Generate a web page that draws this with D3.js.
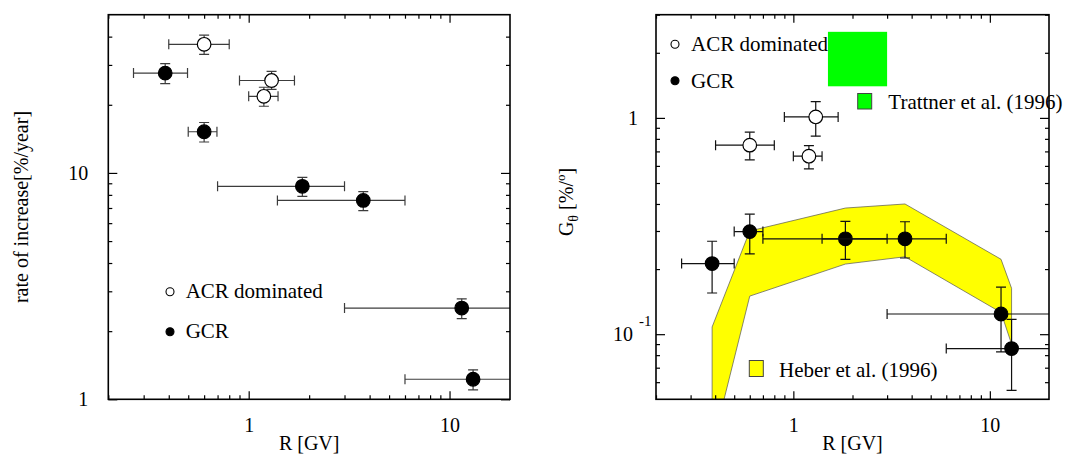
<!DOCTYPE html>
<meta charset="utf-8">
<html>
<head>
<script src="https://d3js.org/d3.v7.min.js" charset="utf-8"></script>
<style type="text/css">
    body { margin: 0; background: #fff; }
    svg text { font-family: "Liberation Serif", "DejaVu Serif", serif; fill: #000; }
</style>
</head>
<body>
<div id="chart"></div>
<script type="text/javascript">

// ---- data ----
// left panel: rate of increase [%/year] vs rigidity
var leftAcrR    = [0.6, 1.3, 1.19];
var leftAcrRLo  = [0.4, 0.9, 1.0];
var leftAcrRHi  = [0.8, 1.69, 1.4];
var leftAcrVal  = [37, 25.6, 21.8];
var leftAcrLo   = [33.4, 23.4, 19.7];
var leftAcrHi   = [40.6, 28.1, 23.9];

var leftGcrR    = [0.384, 0.6, 1.85, 3.72, 11.5, 13.1];
var leftGcrRLo  = [0.267, 0.5, 0.7, 1.39, 3.0, 6.0];
var leftGcrRHi  = [0.496, 0.695, 3.0, 6.0, 30, 30];
var leftGcrVal  = [27.6, 15.2, 8.73, 7.56, 2.53, 1.226];
var leftGcrLo   = [24.8, 13.7, 7.88, 6.81, 2.27, 1.10];
var leftGcrHi   = [30.4, 16.7, 9.56, 8.27, 2.78, 1.35];

// right panel: G_theta [%/deg] vs rigidity
var rightAcrR   = [0.6, 1.3, 1.2];
var rightAcrRLo = [0.402, 0.9, 1.0];
var rightAcrRHi = [0.8, 1.69, 1.4];
var rightAcrVal = [0.748, 1.01, 0.665];
var rightAcrLo  = [0.64, 0.823, 0.581];
var rightAcrHi  = [0.859, 1.19, 0.745];

var rightGcrR   = [0.386, 0.6, 1.84, 3.7, 11.4, 12.9];
var rightGcrRLo = [0.27, 0.5, 0.7, 1.4, 3.0, 6.0];
var rightGcrRHi = [0.5, 0.7, 3.0, 6.0, 30, 30];
var rightGcrVal = [0.212, 0.298, 0.276, 0.276, 0.124, 0.0858];
var rightGcrLo  = [0.155, 0.235, 0.222, 0.225, 0.0828, 0.055];
var rightGcrHi  = [0.269, 0.359, 0.332, 0.331, 0.165, 0.117];

// Heber et al. (1996) band
var heberR  = [0.386, 0.6, 1.84, 3.7, 11.4, 12.9];
var heberLo = [0.030, 0.150, 0.211, 0.228, 0.126, 0.090];
var heberHi = [0.108, 0.30, 0.383, 0.400, 0.222, 0.163];

// Trattner et al. (1996) box
var trattnerR = [1.5, 3.0];
var trattnerG = [1.4, 2.5];

// ticks
var xMajor = [1, 10];
var xMinor = [0.2, 0.3, 0.4, 0.5, 0.6, 0.7, 0.8, 0.9, 2, 3, 4, 5, 6, 7, 8, 9];
var leftYMajor = [1, 10];
var leftYMinor = [2, 3, 4, 5, 6, 7, 8, 9, 20, 30, 40];
var rightYMajor = [0.1, 1];
var rightYMinor = [0.06, 0.07, 0.08, 0.09, 0.2, 0.3, 0.4, 0.5, 0.6, 0.7, 0.8, 0.9, 2, 3];

var canvas_width = 1077;
var canvas_height = 455;

var svg = d3.select("#chart").append("svg")
    .attr("width", canvas_width)
    .attr("height", canvas_height);

function zip(r, rlo, rhi, v, lo, hi) {
    return r.map(function(d, i) {
        return {r: d, rlo: rlo[i], rhi: rhi[i], v: v[i], lo: lo[i], hi: hi[i]};
    });
}

// draws frame + inward ticks on all four sides
function drawAxes(g, x, y, box, yMajor, yMinor, yPad) {
    function clean(sel) { sel.select(".domain").remove(); }

    g.append("g").attr("transform", "translate(0," + box.y1 + ")")
        .call(d3.axisBottom(x).tickValues(xMinor).tickSize(-4).tickFormat("")).call(clean);
    g.append("g").attr("transform", "translate(0," + box.y1 + ")")
        .call(d3.axisBottom(x).tickValues(xMajor).tickSize(-8).tickPadding(19).tickFormat(d3.format("d")))
        .call(clean);
    g.append("g").attr("transform", "translate(0," + box.y0 + ")")
        .call(d3.axisTop(x).tickValues(xMinor).tickSize(-4).tickFormat("")).call(clean);
    g.append("g").attr("transform", "translate(0," + box.y0 + ")")
        .call(d3.axisTop(x).tickValues(xMajor).tickSize(-8).tickFormat("")).call(clean);

    g.append("g").attr("transform", "translate(" + box.x0 + ",0)")
        .call(d3.axisLeft(y).tickValues(yMinor).tickSize(-4).tickFormat("")).call(clean);
    var yl = g.append("g").attr("class", "ylab").attr("transform", "translate(" + box.x0 + ",0)")
        .call(d3.axisLeft(y).tickValues(yMajor).tickSize(-9).tickPadding(yPad).tickFormat(d3.format("d")))
        .call(clean);
    g.append("g").attr("transform", "translate(" + box.x1 + ",0)")
        .call(d3.axisRight(y).tickValues(yMinor).tickSize(-4).tickFormat("")).call(clean);
    g.append("g").attr("transform", "translate(" + box.x1 + ",0)")
        .call(d3.axisRight(y).tickValues(yMajor).tickSize(-9).tickFormat("")).call(clean);

    g.selectAll(".tick line").attr("stroke", "#000").attr("stroke-width", 1.2);
    g.selectAll(".tick text")
        .attr("font-family", "Liberation Serif")
        .attr("font-size", 20)
        .attr("fill", "#000");

    g.append("rect")
        .attr("x", box.x0).attr("y", box.y0)
        .attr("width", box.x1 - box.x0).attr("height", box.y1 - box.y0)
        .attr("fill", "none").attr("stroke", "#000").attr("stroke-width", 1.6);
    return yl;
}

function drawPoints(g, x, y, data, filled, color) {
    var cap = 5;
    var pts = g.append("g").selectAll("g").data(data).enter().append("g")
        .attr("stroke", color).attr("stroke-width", 1.2);
    // horizontal bar + caps
    pts.append("line")
        .attr("x1", function(d) { return x(d.rlo); }).attr("x2", function(d) { return x(d.rhi); })
        .attr("y1", function(d) { return y(d.v); }).attr("y2", function(d) { return y(d.v); });
    pts.append("line")
        .attr("x1", function(d) { return x(d.rlo); }).attr("x2", function(d) { return x(d.rlo); })
        .attr("y1", function(d) { return y(d.v) - cap; }).attr("y2", function(d) { return y(d.v) + cap; });
    pts.append("line")
        .attr("x1", function(d) { return x(d.rhi); }).attr("x2", function(d) { return x(d.rhi); })
        .attr("y1", function(d) { return y(d.v) - cap; }).attr("y2", function(d) { return y(d.v) + cap; });
    // vertical bar + caps
    pts.append("line")
        .attr("x1", function(d) { return x(d.r); }).attr("x2", function(d) { return x(d.r); })
        .attr("y1", function(d) { return y(d.lo); }).attr("y2", function(d) { return y(d.hi); });
    pts.append("line")
        .attr("x1", function(d) { return x(d.r) - cap; }).attr("x2", function(d) { return x(d.r) + cap; })
        .attr("y1", function(d) { return y(d.lo); }).attr("y2", function(d) { return y(d.lo); });
    pts.append("line")
        .attr("x1", function(d) { return x(d.r) - cap; }).attr("x2", function(d) { return x(d.r) + cap; })
        .attr("y1", function(d) { return y(d.hi); }).attr("y2", function(d) { return y(d.hi); });
    pts.append("circle")
        .attr("cx", function(d) { return x(d.r); })
        .attr("cy", function(d) { return y(d.v); })
        .attr("r", 6.8)
        .attr("fill", filled ? "#000" : "#fff")
        .attr("stroke", "#000")
        .attr("stroke-width", 1.2);
}

function legendMarker(g, px, py, filled) {
    g.append("circle").attr("cx", px).attr("cy", py).attr("r", 4)
        .attr("fill", filled ? "#000" : "#fff").attr("stroke", "#000").attr("stroke-width", 1.1);
}
function legendText(g, px, py, s) {
    return g.append("text").attr("x", px).attr("y", py).attr("font-size", 21).text(s);
}

// ================= LEFT PANEL =================
var boxL = {x0: 108.3, x1: 510, y0: 14.7, y1: 399.3};
var xL = d3.scaleLog().domain([0.2, 20]).range([boxL.x0, boxL.x1]);
var yL = d3.scaleLog().domain([1, 50]).range([boxL.y1, boxL.y0]);
var gL = svg.append("g");

svg.append("clipPath").attr("id", "clipL").append("rect")
    .attr("x", boxL.x0).attr("y", boxL.y0)
    .attr("width", boxL.x1 - boxL.x0).attr("height", boxL.y1 - boxL.y0);
var plotL = gL.append("g").attr("clip-path", "url(#clipL)");

drawPoints(plotL, xL, yL, zip(leftGcrR, leftGcrRLo, leftGcrRHi, leftGcrVal, leftGcrLo, leftGcrHi), true, "#3c3c3c");
drawPoints(plotL, xL, yL, zip(leftAcrR, leftAcrRLo, leftAcrRHi, leftAcrVal, leftAcrLo, leftAcrHi), false, "#3c3c3c");

drawAxes(gL, xL, yL, boxL, leftYMajor, leftYMinor, 20);

legendMarker(gL, 170, 291.7, false);
legendText(gL, 185.7, 298, "ACR dominated");
legendMarker(gL, 170, 331.7, true);
legendText(gL, 185.7, 338, "GCR");

gL.append("text")
    .attr("text-anchor", "middle")
    .attr("font-size", 20)
    .attr("transform", "translate(" + ((boxL.x0 + boxL.x1) / 2) + ",449.5)")
    .text("R [GV]");
gL.append("text")
    .attr("text-anchor", "middle")
    .attr("font-size", 20)
    .attr("transform", "translate(28," + ((boxL.y0 + boxL.y1) / 2) + ")rotate(-90)")
    .text("rate of increase[%/year]");

// ================= RIGHT PANEL =================
var boxR = {x0: 656, x1: 1049, y0: 14.7, y1: 399.3};
var xR = d3.scaleLog().domain([0.2, 20]).range([boxR.x0, boxR.x1]);
var yR = d3.scaleLog().domain([0.05, 3]).range([boxR.y1, boxR.y0]);
var gR = svg.append("g");

svg.append("clipPath").attr("id", "clipR").append("rect")
    .attr("x", boxR.x0).attr("y", boxR.y0)
    .attr("width", boxR.x1 - boxR.x0).attr("height", boxR.y1 - boxR.y0);
var plotR = gR.append("g").attr("clip-path", "url(#clipR)");

// Heber band
var band = heberR.map(function(d, i) { return {r: d, lo: heberLo[i], hi: heberHi[i]}; });
plotR.append("path")
    .datum(band)
    .attr("d", d3.area()
        .x(function(d) { return xR(d.r); })
        .y0(function(d) { return yR(d.lo); })
        .y1(function(d) { return yR(d.hi); }))
    .attr("fill", "#ffff00")
    .attr("stroke", "#555")
    .attr("stroke-width", 0.7);

// Trattner box
plotR.append("rect")
    .attr("x", xR(trattnerR[0]))
    .attr("y", yR(trattnerG[1]))
    .attr("width", xR(trattnerR[1]) - xR(trattnerR[0]))
    .attr("height", yR(trattnerG[0]) - yR(trattnerG[1]))
    .attr("fill", "#00ff00");

drawPoints(plotR, xR, yR, zip(rightGcrR, rightGcrRLo, rightGcrRHi, rightGcrVal, rightGcrLo, rightGcrHi), true, "#111");
drawPoints(plotR, xR, yR, zip(rightAcrR, rightAcrRLo, rightAcrRHi, rightAcrVal, rightAcrLo, rightAcrHi), false, "#111");

var ylR = drawAxes(gR, xR, yR, boxR, rightYMajor, rightYMinor, 18);
// 10^-1 label
ylR.selectAll(".tick").filter(function(d) { return d < 0.5; }).select("text")
    .attr("x", -4.5)
    .text(null)
    .call(function(t) {
        t.append("tspan").text("10");
        t.append("tspan").attr("dx", 6).attr("dy", -15).attr("font-size", 15).text("-1");
    });

legendMarker(gR, 675, 44.3, false);
legendText(gR, 691, 51, "ACR dominated");
legendMarker(gR, 675, 80.7, true);
legendText(gR, 691, 87.5, "GCR");

gR.append("rect").attr("x", 857.7).attr("y", 93.5).attr("width", 14).attr("height", 15.5)
    .attr("fill", "#00ff00").attr("stroke", "#444").attr("stroke-width", 1);
legendText(gR, 888.3, 108.5, "Trattner et al. (1996)");

gR.append("rect").attr("x", 749.3).attr("y", 360.5).attr("width", 14).attr("height", 16)
    .attr("fill", "#ffff00").attr("stroke", "#444").attr("stroke-width", 1);
legendText(gR, 779, 376.5, "Heber et al. (1996)");

gR.append("text")
    .attr("text-anchor", "middle")
    .attr("font-size", 20)
    .attr("transform", "translate(" + ((boxR.x0 + boxR.x1) / 2) + ",449.5)")
    .text("R [GV]");

var glab = gR.append("text")
    .attr("text-anchor", "middle")
    .attr("font-size", 20)
    .attr("transform", "translate(573,202)rotate(-90)");
glab.append("tspan").text("G");
glab.append("tspan").attr("dy", 5).attr("font-size", 14).text("θ");
glab.append("tspan").attr("dy", -5).text(" [%/");
glab.append("tspan").attr("dy", -8).attr("font-size", 13).text("o");
glab.append("tspan").attr("dy", 8).text("]");

</script>
</body>
</html>
